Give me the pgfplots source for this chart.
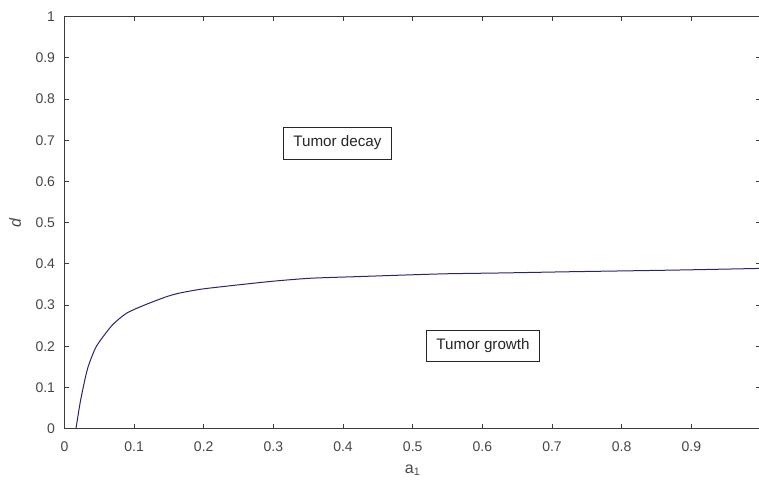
\documentclass[border=0pt]{standalone}
\usepackage{fontspec}
\setmainfont{Liberation Sans}
\usepackage{pgfplots}
\pgfplotsset{compat=1.18}
\definecolor{axisgray}{RGB}{60,60,60}
\definecolor{labelgray}{RGB}{70,70,70}
\definecolor{curveblue}{RGB}{38,38,110}

\begin{document}
\begin{tikzpicture}
\begin{axis}[
  scale only axis,
  width=522.45pt, height=309pt,
  xmin=0, xmax=1, ymin=0, ymax=1,
  xtick={0,0.1,0.2,0.3,0.4,0.5,0.6,0.7,0.8,0.9},
  ytick={0,0.1,0.2,0.3,0.4,0.5,0.6,0.7,0.8,0.9,1},
  /pgf/number format/fixed,
  /pgf/number format/assume math mode=true,
  tick align=inside,
  major tick length=3.5pt,
  axis line style={axisgray, line width=0.6pt},
  every tick/.style={axisgray, line width=0.6pt},
  tick label style={font=\fontsize{10.5}{12}\selectfont, text=labelgray},
  xticklabel shift=6pt,
  yticklabel shift=3.5pt,
  xlabel={a\textsubscript{1}},
  ylabel={\textit{d}},
  label style={font=\fontsize{12}{14}\selectfont, text=labelgray},
  xlabel style={at={(rel axis cs:0.5,0)}, anchor=center, yshift=-31pt},
  ylabel style={at={(rel axis cs:0,0.5)}, anchor=center, rotate=0, yshift=37pt},
]
% boundary between decay and growth regions
\addplot[curveblue, line width=0.75pt, smooth, tension=0.4] coordinates {
  (0.0166,0.000) (0.0223,0.060) (0.0270,0.100) (0.0340,0.150)
  (0.0460,0.200) (0.0680,0.250) (0.0890,0.280) (0.1150,0.300)
  (0.1460,0.320) (0.1650,0.329) (0.1940,0.338) (0.2230,0.344)
  (0.2940,0.357) (0.3520,0.365) (0.4200,0.369) (0.4900,0.373)
  (0.5500,0.376) (0.6300,0.378) (0.7300,0.381) (0.8800,0.385)
  (1.0000,0.389)
};
\node[draw=black!85, line width=0.6pt, fill=white, text=black!85,
      font=\fontsize{11.4}{13}\selectfont,
      inner xsep=7.5pt, inner ysep=6.5pt, text height=8.2pt, text depth=2.6pt]
  at (axis cs:0.392,0.693) {Tumor decay};
\node[draw=black!85, line width=0.6pt, fill=white, text=black!85,
      font=\fontsize{11.4}{13}\selectfont,
      inner xsep=7.5pt, inner ysep=6.5pt, text height=8.2pt, text depth=2.6pt]
  at (axis cs:0.601,0.201) {Tumor growth};
\end{axis}
\pgfresetboundingbox
\path[use as bounding box] (-48.3pt,-39.2pt) rectangle (520.95pt,321.5pt);
\end{tikzpicture}
\end{document}
